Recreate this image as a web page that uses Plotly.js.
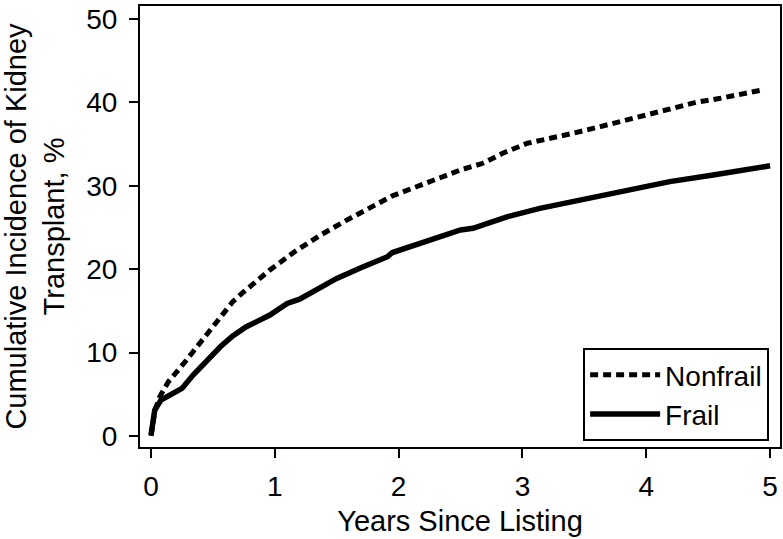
<!DOCTYPE html>
<html>
<head>
<meta charset="utf-8">
<script src="https://cdn.plot.ly/plotly-3.0.1.min.js"></script>
<style>
  html, body { margin: 0; padding: 0; background: #fff; }
  #chart { width: 783px; height: 539px; }
</style>
</head>
<body>
<div id="chart"></div>
<script>
// === Cumulative incidence of kidney transplant ===
const tNonfrail = [0, 0.03, 0.07, 0.14, 0.27, 0.40, 0.53, 0.66, 0.75, 0.96, 1.17, 1.37, 1.57, 1.77, 1.95, 2.04,
  2.25, 2.50, 2.68, 2.84, 3.04, 3.25, 3.41, 3.63, 3.89, 4.19, 4.40, 4.60, 4.80, 4.94];
const pctNonfrail = [0, 3.0, 4.7, 6.5, 8.8, 11.2, 13.7, 16.1, 17.3, 19.9, 22.2, 24.1, 25.8, 27.3, 28.8, 29.3,
  30.5, 31.9, 32.7, 33.9, 35.1, 35.7, 36.3, 37.1, 38.1, 39.3, 40.0, 40.5, 41.0, 41.5];

const tFrail = [0, 0.03, 0.08, 0.15, 0.25, 0.34, 0.45, 0.56, 0.66, 0.77, 0.96, 1.10, 1.20, 1.50, 1.70, 1.91,
  1.95, 2.23, 2.50, 2.60, 2.88, 3.14, 3.41, 3.68, 3.93, 4.19, 4.54, 4.80, 5.00];
const pctFrail = [0.1, 3.1, 4.3, 4.9, 5.7, 7.3, 9.0, 10.7, 12.0, 13.1, 14.5, 15.9, 16.4, 18.9, 20.2, 21.5,
  22.0, 23.3, 24.7, 24.9, 26.3, 27.3, 28.1, 28.9, 29.6, 30.5, 31.3, 31.9, 32.4];

const xTicks = [0, 1, 2, 3, 4, 5];
const yTicks = [0, 10, 20, 30, 40, 50];

const FONT = 'Liberation Sans, Arial, Helvetica, sans-serif';

const traceNonfrail = {
  name: 'Nonfrail', x: tNonfrail, y: pctNonfrail, mode: 'lines',
  line: { color: '#000', width: 5, dash: '8px,5px' }
};
const traceFrail = {
  name: 'Frail', x: tFrail, y: pctFrail, mode: 'lines',
  line: { color: '#000', width: 5.5 }
};

const axisCommon = {
  showline: true, linecolor: '#000', linewidth: 2, mirror: true,
  ticks: 'outside', ticklen: 9, tickwidth: 2, tickcolor: '#000',
  showgrid: false, zeroline: false,
  tickfont: { family: FONT, size: 28, color: '#000' }
};

const layout = {
  width: 783, height: 539,
  paper_bgcolor: '#fff', plot_bgcolor: '#fff',
  margin: { l: 140, r: 3, t: 6, b: 92 },
  font: { family: FONT, color: '#000' },
  xaxis: Object.assign({}, axisCommon, {
    range: [-0.089, 5.08], tickvals: xTicks, ticktext: xTicks.map(String),
    ticklabelstandoff: 4,
    title: { text: 'Years Since Listing', font: { family: FONT, size: 29, color: '#000' }, standoff: 10 }
  }),
  yaxis: Object.assign({}, axisCommon, {
    range: [-1.32, 51.56], tickvals: yTicks, ticktext: yTicks.map(String),
    ticklabelstandoff: 6,
    title: { text: 'Cumulative Incidence of Kidney<br>Transplant, %', font: { family: FONT, size: 29, color: '#000' }, standoff: 18 }
  }),
  showlegend: true,
  legend: {
    x: 0.983, y: 0.0136, xanchor: 'right', yanchor: 'bottom',
    bgcolor: '#fff', bordercolor: '#000', borderwidth: 2,
    font: { family: FONT, size: 28, color: '#000' },
    itemwidth: 70, traceorder: 'normal'
  }
};

Plotly.newPlot('chart', [traceNonfrail, traceFrail], layout, { displayModeBar: false, staticPlot: true });
</script>
</body>
</html>
